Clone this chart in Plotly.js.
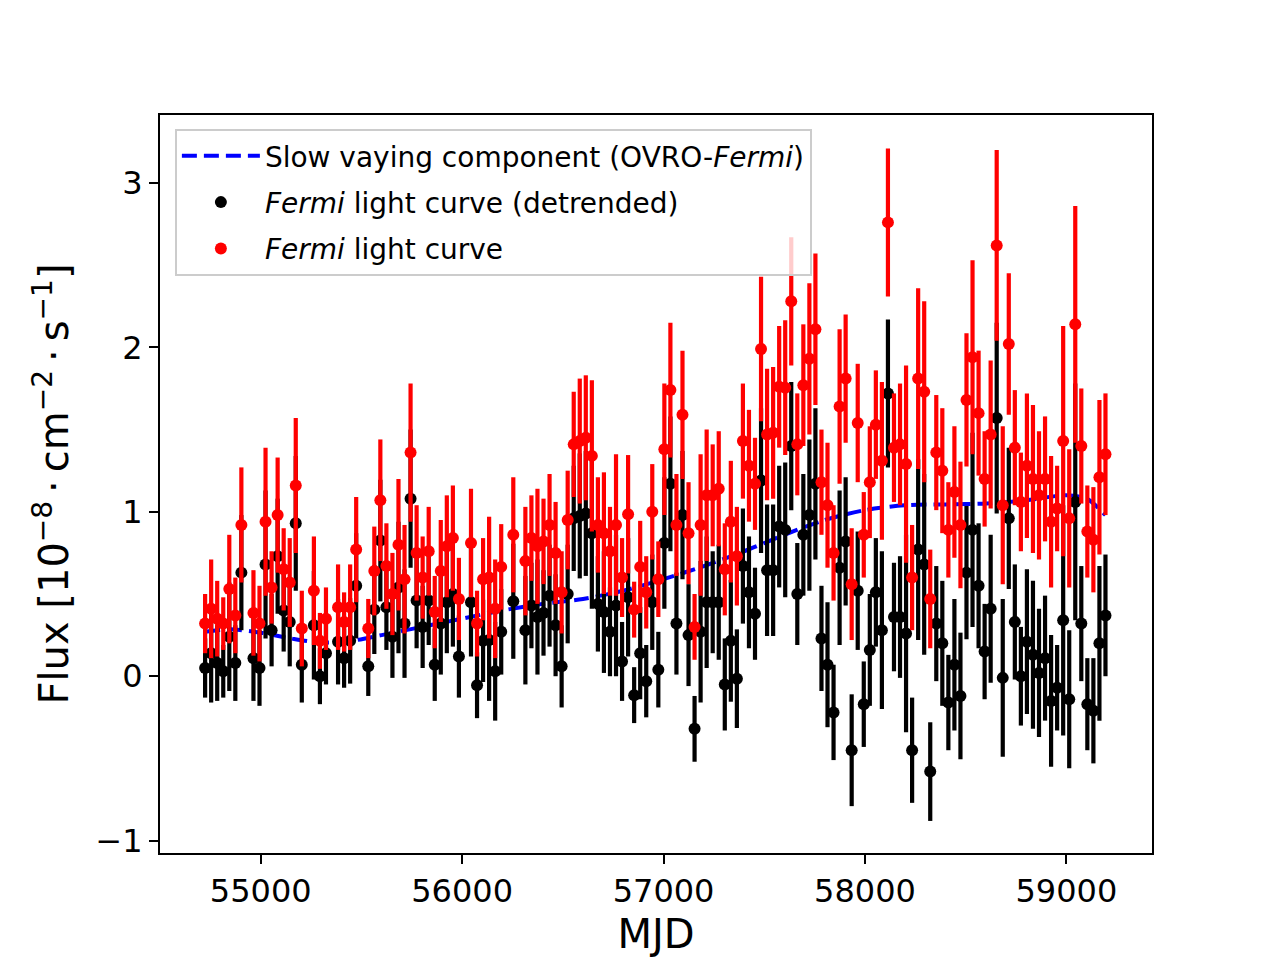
<!DOCTYPE html>
<html>
<head>
<meta charset="utf-8">
<script src="https://cdn.plot.ly/plotly-3.0.1.min.js"></script>
<style>
    html, body { margin: 0; padding: 0; background: #ffffff; }
    #chart { width: 1280px; height: 960px; }
</style>
</head>
<body>
<div id="chart"></div>
<script>
// monthly Fermi bins (MJD centres), gaps are missing bins
const mjd = [
    54724, 54754, 54784, 54814, 54844, 54874, 54904, 54964, 54994, 55024,
    55054, 55084, 55114, 55144, 55174, 55204, 55264, 55294, 55324, 55384,
    55414, 55444, 55474, 55534, 55564, 55594, 55624, 55654, 55684, 55714,
    55744, 55774, 55804, 55834, 55864, 55894, 55924, 55954, 55984, 56044,
    56074, 56104, 56134, 56164, 56194, 56254, 56314, 56344, 56374, 56404,
    56434, 56464, 56494, 56524, 56554, 56584, 56614, 56644, 56674, 56704,
    56734, 56764, 56794, 56824, 56854, 56884, 56914, 56944, 56974, 57004,
    57034, 57064, 57094, 57124, 57154, 57184, 57214, 57244, 57274, 57304,
    57334, 57364, 57394, 57424, 57454, 57484, 57514, 57544, 57574, 57604,
    57634, 57664, 57694, 57724, 57754, 57784, 57814, 57844, 57874, 57904,
    57934, 57964, 57994, 58024, 58054, 58084, 58114, 58144, 58174, 58204,
    58234, 58264, 58294, 58324, 58354, 58384, 58414, 58444, 58474, 58504,
    58534, 58564, 58594, 58624, 58654, 58684, 58714, 58744, 58774, 58804,
    58834, 58864, 58894, 58924, 58954, 58984, 59014, 59044, 59074, 59104,
    59134, 59164, 59194,
];

const fermiFlux = [
    0.32, 0.41, 0.35, 0.32, 0.53, 0.37, 0.92, 0.385, 0.32, 0.94,
    0.54, 0.98, 0.65, 0.57, 1.16, 0.29, 0.52, 0.215, 0.35, 0.42,
    0.33, 0.42, 0.77, 0.29, 0.64, 1.07, 0.67, 0.50, 0.80, 0.59,
    1.36, 0.75, 0.60, 0.76, 0.39, 0.64, 0.79, 0.84, 0.47, 0.81,
    0.32, 0.59, 0.60, 0.41, 0.665, 0.86, 0.70, 0.84, 0.79, 0.82,
    0.92, 0.75, 0.51, 0.95, 1.41, 1.43, 1.45, 1.34, 0.92, 0.87,
    0.76, 0.92, 0.60, 0.985, 0.405, 0.665, 0.51, 1.00, 0.59, 1.38,
    1.74, 0.92, 1.59, 0.87, 0.30, 0.92, 1.10, 1.10, 1.14, 0.65,
    0.94, 0.73, 1.43, 1.28, 1.17, 1.99, 1.47, 1.48, 1.76, 1.755,
    2.28, 1.41, 1.77, 1.93, 2.11, 1.18, 1.04, 0.75, 1.64, 1.81,
    0.56, 1.54, 0.86, 1.18, 1.53, 1.31, 2.76, 1.39, 1.41, 1.29,
    0.60, 1.81, 1.73, 0.47, 1.36, 1.25, 0.89, 1.12, 0.92, 1.68,
    1.94, 1.60, 1.20, 1.47, 2.62, 1.04, 2.02, 1.39, 1.06, 1.28,
    1.20, 1.10, 1.20, 0.94, 1.02, 1.43, 0.96, 2.14, 1.40, 0.88,
    0.83, 1.21, 1.35,
];

const detrendedFlux = [
    0.05, 0.14, 0.08, 0.03, 0.24, 0.08, 0.63, 0.11, 0.05, 0.68,
    0.28, 0.73, 0.40, 0.33, 0.93, 0.07, 0.31, 0.00, 0.14, 0.21,
    0.11, 0.215, 0.55, 0.06, 0.405, 0.825, 0.42, 0.24, 0.54, 0.32,
    1.08, 0.46, 0.30, 0.46, 0.07, 0.32, 0.45, 0.50, 0.12, 0.45,
    -0.055, 0.215, 0.22, 0.03, 0.27, 0.456, 0.28, 0.43, 0.36, 0.385,
    0.49, 0.31, 0.06, 0.50, 0.96, 0.975, 0.99, 0.87, 0.44, 0.39,
    0.27, 0.43, 0.09, 0.48, -0.115, 0.14, -0.03, 0.45, 0.04, 0.81,
    1.17, 0.32, 0.98, 0.25, -0.32, 0.27, 0.45, 0.45, 0.45, -0.05,
    0.215, -0.015, 0.67, 0.51, 0.38, 1.19, 0.645, 0.645, 0.91, 0.89,
    1.40, 0.50, 0.86, 0.98, 1.17, 0.23, 0.07, -0.22, 0.66, 0.82,
    -0.45, 0.52, -0.17, 0.16, 0.51, 0.28, 1.72, 0.36, 0.36, 0.26,
    -0.45, 0.77, 0.68, -0.58, 0.32, 0.20, -0.16, 0.07, -0.12, 0.63,
    0.89, 0.55, 0.15, 0.41, 1.57, -0.01, 0.96, 0.33, 0.00, 0.21,
    0.13, 0.02, 0.11, -0.15, -0.07, 0.34, -0.14, 1.06, 0.32, -0.17,
    -0.21, 0.20, 0.37,
];

const fluxErr = [
    0.18, 0.30, 0.23, 0.16, 0.33, 0.23, 0.35, 0.26, 0.23, 0.45,
    0.22, 0.35, 0.25, 0.27, 0.41, 0.23, 0.33, 0.17, 0.19, 0.26,
    0.18, 0.26, 0.32, 0.18, 0.27, 0.37, 0.26, 0.25, 0.40, 0.33,
    0.42, 0.29, 0.25, 0.27, 0.22, 0.31, 0.31, 0.32, 0.25, 0.33,
    0.20, 0.25, 0.37, 0.30, 0.26, 0.35, 0.33, 0.26, 0.35, 0.26,
    0.31, 0.31, 0.25, 0.30, 0.32, 0.38, 0.38, 0.46, 0.29, 0.37,
    0.27, 0.43, 0.24, 0.36, 0.17, 0.28, 0.22, 0.29, 0.23, 0.40,
    0.41, 0.31, 0.39, 0.31, 0.20, 0.43, 0.40, 0.31, 0.35, 0.28,
    0.37, 0.30, 0.35, 0.34, 0.28, 0.44, 0.40, 0.40, 0.37, 0.41,
    0.39, 0.31, 0.37, 0.46, 0.46, 0.32, 0.38, 0.29, 0.47, 0.39,
    0.34, 0.36, 0.26, 0.34, 0.33, 0.48, 0.45, 0.33, 0.37, 0.60,
    0.32, 0.55, 0.55, 0.30, 0.35, 0.38, 0.29, 0.40, 0.385, 0.405,
    0.59, 0.38, 0.29, 0.45, 0.58, 0.48, 0.43, 0.35, 0.30, 0.44,
    0.45, 0.39, 0.38, 0.40, 0.26, 0.70, 0.42, 0.72, 0.35, 0.28,
    0.32, 0.47, 0.37,
];

// slow varying component (OVRO-Fermi), read at knots along the dashed curve
const slowMjd = [
    54724, 54850, 55000, 55150, 55300, 55450, 55600, 55800, 56000, 56200,
    56400, 56600, 56800, 57000, 57200, 57400, 57600, 57800, 58000, 58200,
    58400, 58600, 58800, 59000, 59100, 59194,
];
const slowFlux = [
    0.27, 0.285, 0.265, 0.23, 0.205, 0.215, 0.25, 0.30, 0.35, 0.40,
    0.44, 0.47, 0.52, 0.59, 0.67, 0.76, 0.86, 0.95, 1.01, 1.04,
    1.045, 1.05, 1.07, 1.10, 1.08, 0.98,
];

const xTicks = [55000, 56000, 57000, 58000, 59000];
const yTicks = [-1, 0, 1, 2, 3];
const yTickText = ["\u22121", "0", "1", "2", "3"];

const fontFamily = "\"DejaVu Sans\", Verdana, sans-serif";

const errorStyle = (color) => ({
    type: "data",
    array: fluxErr,
    visible: true,
    color: color,
    thickness: 4.2,
    width: 0,
});

const traces = [
    {
        type: "scatter",
        mode: "lines",
        name: "Slow vaying component (OVRO-<i>Fermi</i>)",
        x: slowMjd,
        y: slowFlux,
        line: { color: "#0000ff", width: 4, dash: "15px,7px", shape: "spline", smoothing: 0.8 },
        legendgroup: "a",
    },
    {
        type: "scatter",
        mode: "markers",
        name: "<i>Fermi</i> light curve (detrended)",
        x: mjd,
        y: detrendedFlux,
        marker: { color: "#000000", size: 12 },
        error_y: errorStyle("#000000"),
        legendgroup: "b",
    },
    {
        type: "scatter",
        mode: "markers",
        name: "<i>Fermi</i> light curve",
        x: mjd,
        y: fermiFlux,
        marker: { color: "#ff0000", size: 12 },
        error_y: errorStyle("#ff0000"),
        legendgroup: "c",
    },
];

const layout = {
    width: 1280,
    height: 960,
    margin: { l: 160, r: 128, t: 115, b: 107 },
    paper_bgcolor: "#ffffff",
    plot_bgcolor: "#ffffff",
    font: { family: fontFamily, color: "#000000", size: 30 },
    showlegend: true,
    xaxis: {
        range: [54500, 59425],
        tickvals: xTicks,
        ticktext: xTicks.map(String),
        ticks: "outside",
        ticklen: 9,
        tickwidth: 2,
        tickcolor: "#000000",
        tickfont: { size: 32 },
        showline: true,
        mirror: true,
        linecolor: "#000000",
        linewidth: 2,
        showgrid: false,
        zeroline: false,
        title: { text: "MJD", font: { size: 40 }, standoff: 11 },
    },
    yaxis: {
        range: [-1.075, 3.413],
        tickvals: yTicks,
        ticktext: yTickText,
        ticks: "outside",
        ticklen: 9,
        tickwidth: 2,
        tickcolor: "#000000",
        tickfont: { size: 32 },
        showline: true,
        mirror: true,
        linecolor: "#000000",
        linewidth: 2,
        showgrid: false,
        zeroline: false,
        title: {
            text: "Flux [10<sup>\u22128</sup>\u2009\u00b7\u2009cm<sup>\u22122</sup>\u2009\u00b7\u2009s<sup>\u22121</sup>]",
            font: { size: 40 },
            standoff: 14,
        },
    },
    legend: {
        x: 0.015,
        y: 0.981,
        xanchor: "left",
        yanchor: "top",
        bgcolor: "rgba(255, 255, 255, 0.8)",
        bordercolor: "#cccccc",
        borderwidth: 2,
        font: { size: 28 },
        itemwidth: 78,
        traceorder: "grouped",
        tracegroupgap: 7,
    },
};

Plotly.newPlot("chart", traces, layout, { displayModeBar: false, staticPlot: true });
</script>
</body>
</html>
